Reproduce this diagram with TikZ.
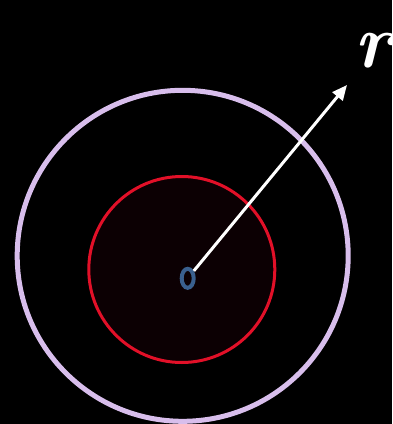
\documentclass[tikz,border=0pt]{standalone}
\usepackage{fontspec}
\usetikzlibrary{arrows.meta,positioning,shapes.geometric}
\definecolor{shellLavender}{RGB}{216, 190, 236}
\definecolor{coreRed}{RGB}{226, 16, 40}
\definecolor{coreFill}{RGB}{12, 0, 3}
\definecolor{originBlue}{RGB}{58, 96, 142}

\begin{document}
\begin{tikzpicture}[
  x=1pt, y=-1pt,
  shell/.style={draw=shellLavender, circle, line width=5pt, minimum size=331pt, inner sep=0pt},
  core/.style={draw=coreRed, fill=coreFill, circle, line width=3pt, minimum size=186pt, inner sep=0pt},
  origin/.style={draw=originBlue, ellipse, line width=4pt, minimum width=12pt, minimum height=19pt, inner sep=0pt},
  arrow/.style={-{Triangle[length=15pt,width=13pt]}, line width=3pt, white}
]
\fill[black] (0,0) rectangle (392,424);
\useasboundingbox (0,0) rectangle (392,424);
\node[shell] (outer) at (182.7,255.8) {};
\node[core] (inner) at (181.8,269.5) {};
\node[origin] (centre) at (187.7,278.3) {};
\coordinate (tip) at (347,85);
\node[anchor=base, inner sep=0pt, text=white] (rlabel) at (374,67) {\fontsize{76}{76}\selectfont\bfseries\itshape r};
\draw[arrow] (centre) -- (tip);
\end{tikzpicture}
\end{document}
